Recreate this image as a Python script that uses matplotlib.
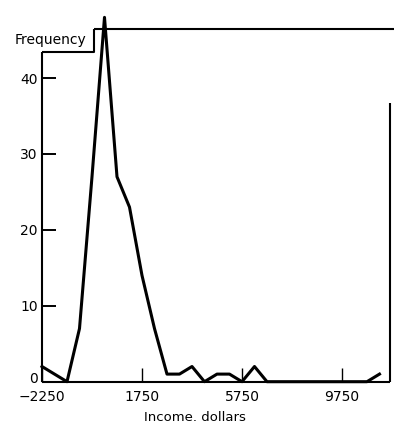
"""
Frequency polygon of incomes, drawn with a stepped frame and the
axis label tucked into the top-left corner.
"""

import matplotlib
matplotlib.use("Agg")
import matplotlib.pyplot as plt
import matplotlib.transforms as mtransforms

# class marks (dollars) and the number of people in each class
incomes = [-2250, -1750, -1250, -750, -250, 250, 750, 1250, 1750, 2250,
           2750, 3250, 3750, 4250, 4750, 5250, 5750, 6250, 6750, 7250,
           7750, 8250, 8750, 9250, 9750, 10250, 10750, 11250]
frequency = [2, 1, 0, 7, 27, 48, 27, 23, 14, 7,
             1, 1, 2, 0, 1, 1, 0, 2, 0, 0,
             0, 0, 0, 0, 0, 0, 0, 1]

x_ticks = [-2250, 1750, 5750, 9750]
x_tick_labels = ["\u22122250", "1750", "5750", "9750"]
y_ticks = [0, 10, 20, 30, 40]


def draw_frame(ax, xmin, xmax, ytop):
    """Box with a notch in the top-left corner for the 'Frequency' label."""
    kw = dict(color="black", lw=1.5, clip_on=False, solid_capstyle="butt")
    notch_x, notch_y = -180, 43.4
    ax.plot([xmin, xmin], [0, notch_y], **kw)
    ax.plot([xmin, notch_x, notch_x], [notch_y, notch_y, ytop], **kw)
    ax.plot([notch_x, xmax + 160], [ytop, ytop], **kw)
    ax.plot([xmin, xmax], [0, 0], **kw)
    ax.plot([xmax, xmax], [0, 36.7], **kw)


def plot_income(fig_location="out.png"):
    fig = plt.figure(figsize=(3.94, 4.25), dpi=100)
    ax = fig.add_axes([0.1066, 0.1019, 0.8832, 0.8287])

    xmin, xmax, ytop = -2250, 11670, 46.4
    ax.set_xlim(xmin, xmax)
    ax.set_ylim(0, ytop)

    for pos in ["left", "right", "top", "bottom"]:
        ax.spines[pos].set_visible(False)
    draw_frame(ax, xmin, xmax, ytop)

    ax.plot(incomes, frequency, color="black", lw=2.2, clip_on=False,
            solid_joinstyle="round", zorder=3)

    ax.set_xticks(x_ticks)
    ax.set_xticklabels(x_tick_labels)
    ax.set_yticks(y_ticks)
    ax.tick_params(axis="x", direction="in", length=10, width=1.0,
                   pad=6, labelsize=10)
    ax.tick_params(axis="y", direction="in", length=10, width=1.4,
                   pad=3, labelsize=10)

    # lift the "0" label a little so it clears the x tick labels
    zero_label = ax.get_yticklabels()[0]
    zero_label.set_transform(zero_label.get_transform() +
                             mtransforms.ScaledTranslation(0, 3 / 72, fig.dpi_scale_trans))

    ax.text(-3330, 45.0, "Frequency", ha="left", va="center",
            fontsize=10, clip_on=False)
    ax.text(3870, -4.7, "Income. dollars", ha="center", va="center",
            fontsize=9.5)

    fig.savefig(fig_location, dpi=100)


if __name__ == "__main__":
    plot_income()
